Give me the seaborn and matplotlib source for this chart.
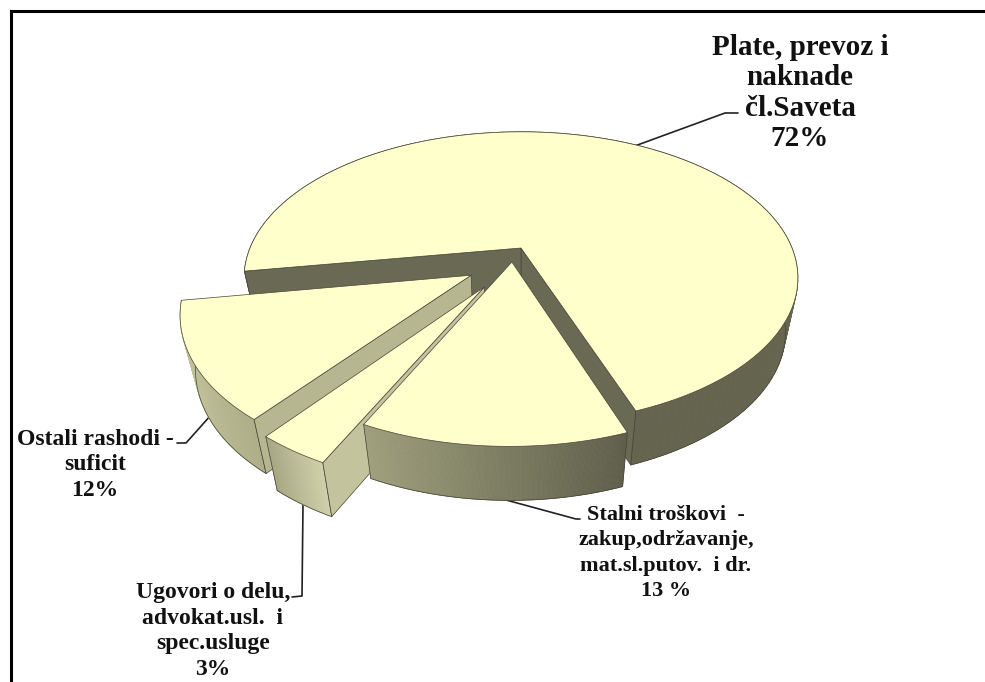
import numpy as np
import seaborn as sns
import matplotlib
matplotlib.use("Agg")
import matplotlib.pyplot as plt

# share of each slice, going counter-clockwise from the big one
categories = ["Plate", "Ostali", "Ugovori", "Stalni"]
values = [72, 12, 3.4, 12.6]

labels = [
    "Plate, prevoz i\nnaknade\nčl.Saveta\n72%",
    "Ostali rashodi -\nsuficit\n12%",
    "Ugovori o delu,\nadvokat.usl.  i\nspec.usluge\n3%",
    "Stalni troškovi  -\nzakup,održavanje,\nmat.sl.putov.  i dr.\n13 %",
]

TOP = "#ffffcc"
EDGE = "#45453a"
START = -70
RX, RY, PERSP = 271, 140, 0.205
CX, CY = 521, 248
HEIGHT = 54
SHRINK = 0.955

explode = [(0, 0), (-0.177, 0.187), (-0.128, 0.263), (-0.033, 0.098)]
arc_cols = [("#65654f", "#65654f"), ("#d0d0a8", "#aeae88"), ("#a6a682", "#cfcfaa"), ("#a0a07e", "#5f5f4b")]
wall_cols = [("#6a6a54", "#6a6a54"), (None, "#b6b690"), (None, "#c3c39e"), (None, None)]
label_pos = [(800, 93), (95, 465), (213, 631), (666, 553)]
label_size = [21, 17, 17, 16]
label_gap = [1.16, 1.30, 1.30, 1.36]
leaders = [
    ([632, 725, 738], [147, 113, 113]),
    ([211, 186, 177], [415, 443, 443]),
    ([303, 302, 292], [505, 596, 597]),
    ([495, 576, 580], [497, 519, 519]),
]


def project(u, v, low=False):
    w = 1 - PERSP * v
    x = RX * u / w
    y = CY + RY * v / w
    if low:
        x = x * SHRINK
        y = y + HEIGHT
    return CX + x, y


def draw_side(ax, u, v, cols):
    pal = sns.blend_palette(cols, len(u) - 1)
    for i in range(len(u) - 1):
        x1, y1 = project(u[i:i + 2], v[i:i + 2])
        x2, y2 = project(u[i:i + 2][::-1], v[i:i + 2][::-1], low=True)
        ax.fill(np.r_[x1, x2], np.r_[y1, y2], color=pal[i], lw=0.6, zorder=1)
    xb, yb = project(u, v, low=True)
    ax.plot(xb, yb, color=EDGE, lw=0.5, zorder=1)
    for k in [0, -1]:
        xa, ya = project(u[k], v[k])
        xc, yc = project(u[k], v[k], low=True)
        ax.plot([xa, xc], [ya, yc], color=EDGE, lw=0.5, zorder=1)


def draw_wall(ax, u0, v0, u1, v1, col):
    x1, y1 = project(np.array([u0, u1]), np.array([v0, v1]))
    x2, y2 = project(np.array([u1, u0]), np.array([v1, v0]), low=True)
    ax.fill(np.r_[x1, x2], np.r_[y1, y2], facecolor=col, edgecolor=EDGE, lw=0.5, zorder=1)


def draw_slice(ax, a0, a1, offset, arc_col, wall_col):
    t = np.radians(np.linspace(a0, a1, 160))
    du, dv = offset
    u = np.cos(t) + du
    v = -np.sin(t) + dv

    draw_side(ax, u, v, arc_col)

    if wall_col[0]:
        draw_wall(ax, du, dv, u[0], v[0], wall_col[0])
    if wall_col[1]:
        draw_wall(ax, du, dv, u[-1], v[-1], wall_col[1])

    x, y = project(np.r_[du, u], np.r_[dv, v])
    ax.fill(x, y, facecolor=TOP, edgecolor=EDGE, lw=0.5, zorder=1)


def main():
    sns.set_theme(style="white")
    plt.rcParams["font.family"] = ["Liberation Serif", "DejaVu Serif"]

    fig = plt.figure(figsize=(9.85, 6.82), dpi=100)
    ax = fig.add_axes([0, 0, 1, 1])
    ax.set_xlim(0, 985)
    ax.set_ylim(682, 0)
    ax.axis("off")

    ax.plot([11, 11, 985], [682, 11, 11], color="black", lw=2.2, solid_joinstyle="miter")

    ends = START + np.cumsum(values) / np.sum(values) * 360
    starts = np.r_[START, ends[:-1]]

    # back to front
    for i in range(len(values)):
        draw_slice(ax, starts[i], ends[i], explode[i], arc_cols[i], wall_cols[i])

    for xs, ys in leaders:
        ax.plot(xs, ys, color="#222222", lw=1.2, zorder=0.5)

    for i, lab in enumerate(labels):
        x, y = label_pos[i]
        ax.text(x, y, lab, ha="center", va="center", fontsize=label_size[i], fontweight="bold",
                color="#111111", linespacing=label_gap[i])

    fig.savefig("out.png", dpi=100, facecolor="white")


if (__name__ == '__main__'):
    main()
